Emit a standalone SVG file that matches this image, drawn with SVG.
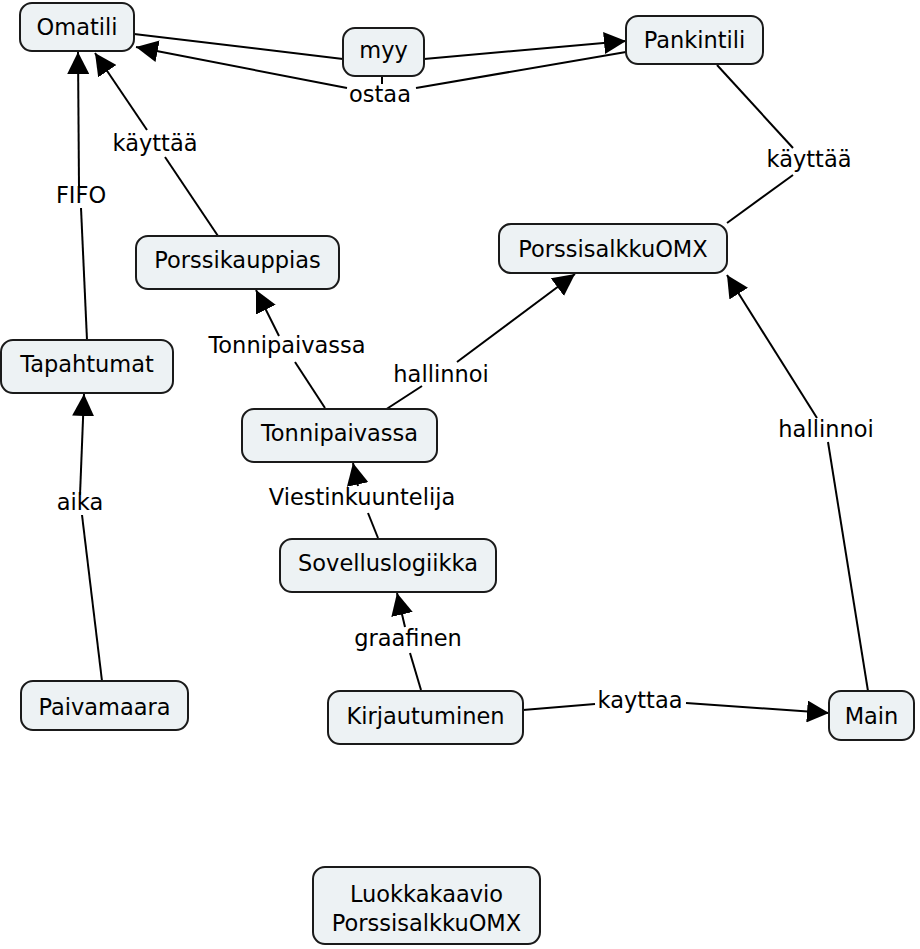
<svg xmlns="http://www.w3.org/2000/svg" width="920" height="949" viewBox="0 0 920 949">
<defs>
<marker id="arr" markerUnits="userSpaceOnUse" markerWidth="22" markerHeight="22" refX="20" refY="10" orient="auto" viewBox="0 0 20 20">
<path d="M0,0 L20,10 L0,20 z" fill="#000"/>
</marker>
<style>
.n rect{fill:#edf2f4;stroke:#1a1a1a;stroke-width:2}
text{font-family:"DejaVu Sans","Verdana",sans-serif;font-size:22.5px;fill:#000;text-anchor:middle}
.c path{fill:none;stroke:#000;stroke-width:2}
.c path.a{marker-end:url(#arr)}
</style>
</defs>
<rect width="920" height="949" fill="#fff"/>
<g id="connectors" class="c">
<path d="M134,34 L343,59"/>
<path class="a" d="M424,59 L626,41"/>
<path d="M626,52 L416,88"/>
<path class="a" d="M347,88 L136,47"/>
<path d="M382,76 L382,84"/>
<path d="M717,65 L793,148"/>
<path d="M793,175 L727,223"/>
<path d="M218,236 L165,157"/>
<path class="a" d="M147,130 L95,53"/>
<path d="M87,340 L81,208"/>
<path class="a" d="M79,188 L78,52"/>
<path d="M102,681 L82,515"/>
<path class="a" d="M80,495 L84,394"/>
<path d="M325,408 L295,362"/>
<path class="a" d="M279,336 L256,290"/>
<path d="M385,410 L422,386"/>
<path class="a" d="M457,362 L575,274"/>
<path d="M378,538 L368,513"/>
<path class="a" d="M358,486 L353,463"/>
<path d="M421,690 L410,653"/>
<path class="a" d="M405,627 L397,593"/>
<path d="M523,710 L595,704"/>
<path class="a" d="M686,703 L829,713"/>
<path d="M868,691 L828,442"/>
<path class="a" d="M817,418 L727,275"/>
</g>
<g id="labels">
<text x="380" y="102">ostaa</text>
<text x="809" y="167">käyttää</text>
<text x="155" y="151">käyttää</text>
<text x="81" y="203">FIFO</text>
<text x="80" y="510">aika</text>
<text x="287" y="353">Tonnipaivassa</text>
<text x="441" y="382">hallinnoi</text>
<text x="826" y="437">hallinnoi</text>
<text x="362" y="505">Viestinkuuntelija</text>
<text x="408" y="646">graafinen</text>
<text x="640" y="708">kayttaa</text>
</g>
<g id="omatili" class="n"><rect x="20" y="3" width="114" height="48" rx="12"/><text x="77" y="35">Omatili</text></g>
<g id="myy" class="n"><rect x="343" y="28" width="81" height="48" rx="12"/><text x="383.5" y="58">myy</text></g>
<g id="pankintili" class="n"><rect x="626" y="16" width="137" height="48" rx="12"/><text x="694.5" y="48">Pankintili</text></g>
<g id="porssisalkkuomx" class="n"><rect x="499" y="224" width="228" height="49" rx="12"/><text x="613" y="257">PorssisalkkuOMX</text></g>
<g id="porssikauppias" class="n"><rect x="136" y="236" width="203" height="53" rx="12"/><text x="237.5" y="268">Porssikauppias</text></g>
<g id="tapahtumat" class="n"><rect x="1" y="340" width="172" height="53" rx="12"/><text x="87" y="372">Tapahtumat</text></g>
<g id="tonnipaivassa" class="n"><rect x="242" y="409" width="195" height="53" rx="12"/><text x="339.5" y="441">Tonnipaivassa</text></g>
<g id="sovelluslogiikka" class="n"><rect x="280" y="539" width="216" height="53" rx="12"/><text x="388" y="571">Sovelluslogiikka</text></g>
<g id="paivamaara" class="n"><rect x="21" y="681" width="167" height="49" rx="12"/><text x="104.5" y="715">Paivamaara</text></g>
<g id="kirjautuminen" class="n"><rect x="328" y="691" width="195" height="53" rx="12"/><text x="425.5" y="723.5">Kirjautuminen</text></g>
<g id="main" class="n"><rect x="829" y="691" width="85" height="49" rx="12"/><text x="871.5" y="724">Main</text></g>
<g id="luokkakaavio" class="n"><rect x="313" y="867" width="227" height="77" rx="12"/><text x="426.5" y="902">Luokkakaavio</text><text x="426.5" y="931">PorssisalkkuOMX</text></g>
</svg>
